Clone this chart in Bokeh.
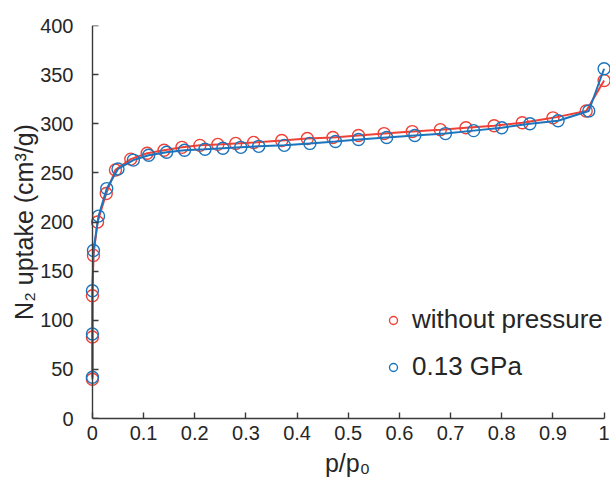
from bokeh.plotting import figure
from bokeh.models import (Range1d, FixedTicker, CustomJSTickFormatter, Legend,
                          LegendItem, LinearAxis)
from bokeh.embed import file_html
from bokeh.resources import INLINE

# Relative pressure p/p0 and N2 uptake (cm3/g)
x_ambient = [0.0, 0.0, 0.0, 0.002, 0.01, 0.027, 0.045, 0.075, 0.107, 0.14, 0.175,
             0.21, 0.245, 0.28, 0.315, 0.37, 0.42, 0.47, 0.52, 0.57, 0.625,
             0.68, 0.73, 0.785, 0.84, 0.9, 0.965, 1.0]
y_ambient = [40, 83, 125, 166, 200, 229, 253, 264, 270, 273, 276,
             278, 279, 280, 281, 283, 285, 286, 288, 290, 292,
             294, 296, 298, 301, 306, 313, 344]

x_pressed = [0.0, 0.0, 0.0, 0.002, 0.012, 0.028, 0.05, 0.08, 0.11, 0.145, 0.18,
             0.22, 0.255, 0.29, 0.325, 0.375, 0.425, 0.475, 0.52, 0.575, 0.63,
             0.69, 0.745, 0.8, 0.855, 0.91, 0.97, 1.0]
y_pressed = [42, 86, 130, 171, 206, 234, 254, 263, 268, 271, 273,
             274, 275, 276, 277, 278, 280, 282, 284, 286, 288,
             290, 293, 296, 300, 303, 313, 356]

series_names = ["without pressure", "0.13 GPa"]
x_ticks = [0, 0.1, 0.2, 0.3, 0.4, 0.5, 0.6, 0.7, 0.8, 0.9, 1]
y_ticks = [0, 50, 100, 150, 200, 250, 300, 350, 400]

RED = "#EF4136"
BLUE = "#1C75BC"
TEXT = "#262626"
AXIS = "#3a3a3a"
FONT = "Liberation Sans"

p = figure(width=610, height=485, output_backend="svg", toolbar_location=None,
           x_range=Range1d(-0.0155, 1.0125), y_range=Range1d(0, 400),
           min_border_left=84, min_border_right=0, min_border_top=25,
           min_border_bottom=67)
p.outline_line_color = None
p.xgrid.visible = False
p.ygrid.visible = False
p.background_fill_color = "white"
p.border_fill_color = "white"

p.line(x_ambient, y_ambient, line_color=RED, line_width=2)
s1 = p.scatter(x_ambient, y_ambient, marker="circle", size=12, fill_color=None,
               line_color=RED, line_width=1.4)
p.line(x_pressed, y_pressed, line_color=BLUE, line_width=2)
s2 = p.scatter(x_pressed, y_pressed, marker="circle", size=12, fill_color=None,
               line_color=BLUE, line_width=1.4)

fmt = CustomJSTickFormatter(code="return String(tick);")

# x axis
xa = p.xaxis[0]
xa.ticker = FixedTicker(ticks=x_ticks)
xa.formatter = fmt
xa.bounds = (0, 1)
xa.axis_label = "p/p\u2080"
xa.minor_tick_line_color = None
xa.major_tick_in = 6
xa.major_tick_out = 0
xa.axis_line_color = AXIS
xa.axis_line_width = 1.4
xa.major_tick_line_color = AXIS
xa.major_tick_line_width = 1.4
xa.major_label_standoff = 7
xa.axis_label_standoff = 6

# y axis: labels beside the frame
ya = p.yaxis[0]
ya.ticker = FixedTicker(ticks=y_ticks)
ya.formatter = fmt
ya.axis_label = "N\u2082 uptake (cm\u00b3/g)"
ya.axis_line_color = None
ya.major_tick_line_color = None
ya.minor_tick_line_color = None
ya.major_label_standoff = 5
ya.axis_label_standoff = -1

for ax in (xa, ya):
    ax.major_label_text_font = FONT
    ax.major_label_text_font_size = "20px"
    ax.major_label_text_color = TEXT
    ax.axis_label_text_font = FONT
    ax.axis_label_text_font_size = "25px"
    ax.axis_label_text_font_style = "normal"
    ax.axis_label_text_color = TEXT

# y axis line and inward ticks placed at p/p0 = 0 (no labels of its own)
yline = LinearAxis(ticker=FixedTicker(ticks=y_ticks), fixed_location=0,
                   bounds=(0, 400),
                   formatter=CustomJSTickFormatter(code="return '';"),
                   major_label_standoff=0, major_tick_in=6, major_tick_out=0,
                   minor_tick_line_color=None, axis_line_color=AXIS,
                   axis_line_width=1.4, major_tick_line_color=AXIS,
                   major_tick_line_width=1.4)
p.add_layout(yline, "left")

legend = Legend(items=[LegendItem(label=series_names[0], renderers=[s1]),
                       LegendItem(label=series_names[1], renderers=[s2])],
                location=(299, 36), orientation="vertical",
                glyph_width=20, glyph_height=20, label_height=24,
                label_standoff=9, spacing=16, padding=0, margin=0,
                border_line_color=None, background_fill_alpha=0,
                label_text_font=FONT, label_text_font_size="26px",
                label_text_color=TEXT)
p.add_layout(legend, "center")

open("out.html", "w").write(file_html(p, INLINE))
